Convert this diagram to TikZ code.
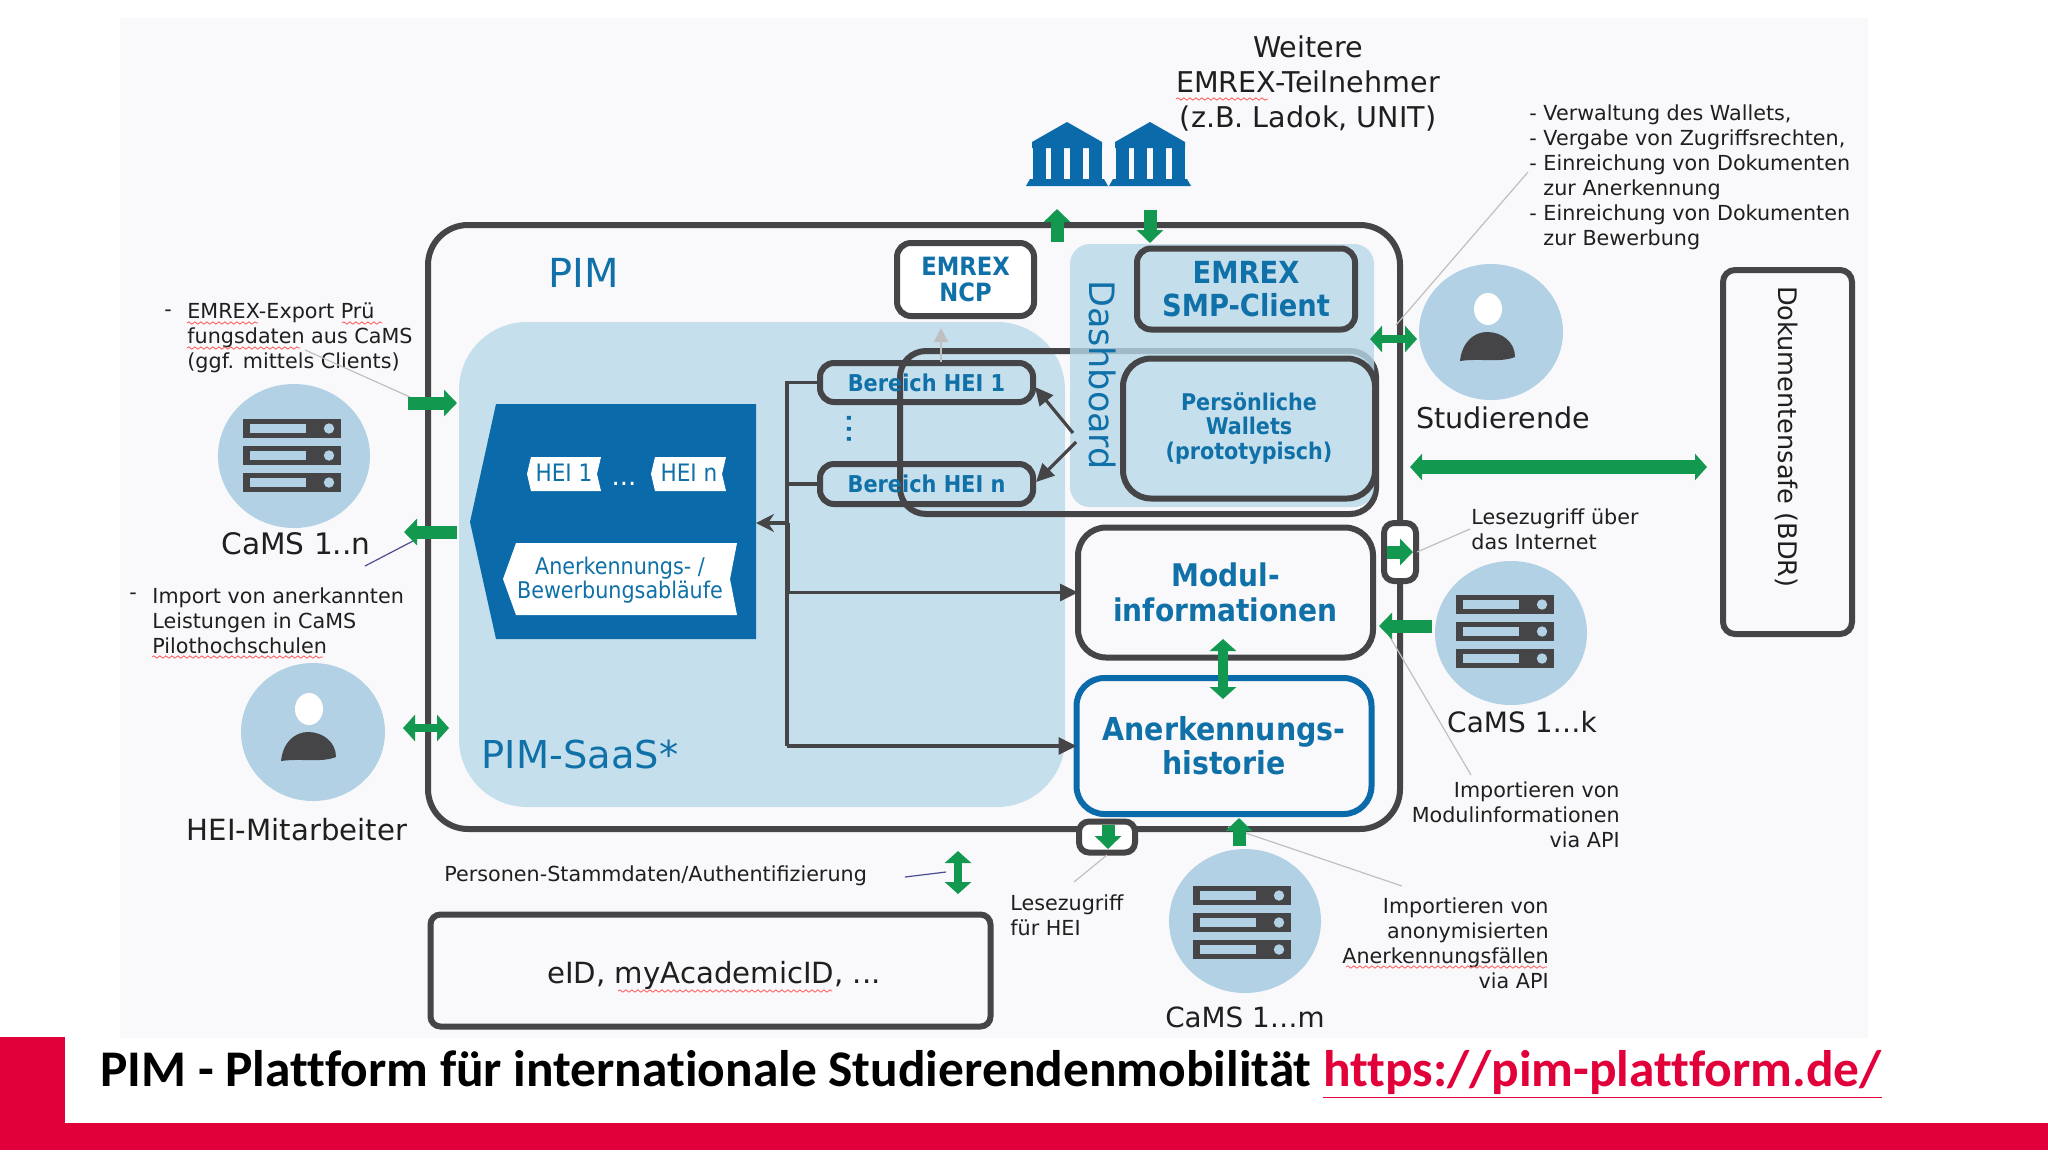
\documentclass[tikz,border=0pt]{standalone}
\usepackage{fontspec}
\setmainfont{DejaVu Sans}
\newfontfamily\condf{DejaVu Sans Condensed}
\newfontfamily\titlef[Ligatures=NoCommon]{Carlito}
\usetikzlibrary{arrows.meta,shapes.geometric,decorations.pathmorphing}
\definecolor{panel}{HTML}{F9F9FB}
\definecolor{dark}{HTML}{454548}
\definecolor{saas}{HTML}{C5DFEC}
\definecolor{dashcol}{HTML}{B9D8E8}
\definecolor{disc}{HTML}{B2D1E5}
\definecolor{pblue}{HTML}{0A6AAA}
\definecolor{tblue}{HTML}{1070A8}
\definecolor{pgreen}{HTML}{13994F}
\definecolor{pred}{HTML}{E2003B}
\newcommand{\sz}[2]{\fontsize{#1}{#2}\selectfont}
\tikzset{
  x=0.5pt,y=-0.5pt,
  box/.style={draw=dark,line width=3pt,rounded corners=#1,inner sep=0,outer sep=0},
  box/.default=7pt,
  lab/.style={inner sep=0,text=black!88,font=\sz{10.35}{12.5}},
  hdr/.style={inner sep=0,text=tblue,align=center,font=\condf\bfseries\sz{14}{17}},
  conn/.style={draw=dark,line width=1.6pt},
  ctip/.style={-{Triangle[length=9pt,width=8.5pt]}},
  stip/.style={-{Stealth[length=9pt,width=9pt]}},
  leader/.style={draw=black!25,line width=.6pt},
  darkleader/.style={draw=black!30!blue!40!gray,line width=.6pt},
  garrow/.style={draw=pgreen,line width=6.5pt,-{Triangle[length=6.5pt,width=13pt]}},
  gdouble/.style={draw=pgreen,line width=#1,{Triangle[length=6pt,width=13pt]}-{Triangle[length=6pt,width=13pt]}},
  disk/.style={ellipse,fill=disc,inner sep=0,minimum width=76pt,minimum height=72pt},
  squiggle/.style={draw=red!60!pink,line width=.35pt,decorate,decoration={snake,amplitude=.6pt,segment length=3pt}},
  server/.pic={
    \foreach \t in {0,27,54}{
      \fill[dark] (0,\t) rectangle (98,\t+19);
      \fill[disc] (7,\t+5) rectangle (63,\t+14);
      \fill[disc] (86,\t+9.5) circle (2.6pt);
    }
  },
  person/.pic={
    \fill[white] (-4,-23) ellipse [x radius=14,y radius=16];
    \fill[dark] (-32,29) .. controls (-30,10) and (-18,0) .. (-5,0)
      .. controls (10,0) and (23,10) .. (23,25)
      .. controls (8,31) and (-12,26) .. (-32,29) -- cycle;
  },
  bank/.pic={
    \fill[pblue] (0,0) -- (35,20) -- (35,26) -- (-35,26) -- (-35,20) -- cycle;
    \foreach \c in {-28,-9.5,9.5,28}{\fill[pblue] (\c-6.5,26) rectangle (\c+6.5,57);}
    \fill[pblue] (-37,57) -- (37,57) -- (41,64) -- (-41,64) -- cycle;
  },
}
\begin{document}
\begin{tikzpicture}
\useasboundingbox (0,0) rectangle (2048,1152);
\fill[white] (0,0) rectangle (2048,1152);
\fill[panel] (120,18) rectangle (1868,1038);
% PIM frame and inner areas
\node[box=20pt,minimum width=486pt,minimum height=302pt,anchor=north west] (pim) at (428,225) {};
\fill[saas,rounded corners=34pt] (459,322) rectangle (1065,807);
\draw[dark,line width=3pt,rounded corners=13pt] (900,351) rectangle (1376,514);
\fill[dashcol,opacity=.8,rounded corners=10pt] (1070,244) rectangle (1374,507);
\node[rotate=-90,inner sep=0,text=tblue,font=\sz{17.5}{20}] (dashb) at (1103,375) {Dashboard};
\node[inner sep=0,text=tblue,font=\sz{20}{24}] (pimt) at (584,273) {PIM};
\node[inner sep=0,text=tblue,font=\sz{19.2}{22}] (saast) at (580,755) {PIM-SaaS*};
% EMREX boxes
\node[box,fill=white,minimum width=68.5pt,minimum height=36.5pt,hdr,font=\condf\bfseries\sz{12.6}{13}] (ncp) at (965.5,279.5) {EMREX\\NCP};
\node[box,minimum width=109pt,minimum height=40.5pt,hdr,font=\condf\bfseries\sz{15.2}{16.5}] (smp) at (1246,289) {EMREX\\SMP-Client};
\node[box=14pt,fill=saas,minimum width=126pt,minimum height=70pt,hdr,font=\condf\bfseries\sz{11.5}{12.3}] (wallet) at (1249,428.5) {Persönliche\\Wallets\\(prototypisch)};
% Bereich boxes
\node[box,minimum width=106.5pt,minimum height=19.5pt,hdr,font=\condf\bfseries\sz{11.6}{13}] (hei1) at (926.5,382.5) {Bereich HEI 1};
\node[box,minimum width=106.5pt,minimum height=20pt,hdr,font=\condf\bfseries\sz{11.6}{13}] (hein) at (926.5,484) {Bereich HEI n};
\node[rotate=90,inner sep=0,text=tblue,font=\bfseries\sz{11}{12}] (dots) at (849,429) {.\hspace{1.2pt}.\hspace{1.2pt}.};
% blue block
\fill[pblue] (470,522) -- (496,404) -- (756,404) -- (756,639) -- (496,639) -- cycle;
\fill[white] (527,474) -- (531,457) -- (601,457) -- (597,474) -- (601,491) -- (531,491) -- cycle;
\fill[white] (651,474) -- (655,457) -- (726,457) -- (722,474) -- (726,491) -- (655,491) -- cycle;
\fill[white] (503,579) -- (516,543) -- (737,543) -- (730,579) -- (737,615) -- (516,615) -- cycle;
\node[inner sep=0,text=tblue,font=\condf\sz{12}{14}] (t1) at (564,473) {HEI 1};
\node[inner sep=0,text=tblue,font=\condf\sz{12}{14}] (tn) at (689,473) {HEI n};
\node[inner sep=0,text=white,font=\sz{13}{14}] (tdots) at (624,484) {...};
\node[inner sep=0,text=tblue,align=center,font=\condf\sz{11.5}{12.3}] (abl) at (620,580) {Anerkennungs- /\\Bewerbungsabläufe};
\coordinate (blockE) at (756,523);
% Modul / Historie
\node[box=14pt,minimum width=147.5pt,minimum height=65pt,hdr,font=\condf\bfseries\sz{15.6}{17.5}] (modul) at (1225.5,592.5) {Modul-\\informationen};
\node[box=14pt,draw=pblue,minimum width=147.5pt,minimum height=68pt,hdr,font=\condf\bfseries\sz{15.8}{17}] (hist) at (1224,746) {Anerkennungs-\\historie};
% bus
\coordinate (busT) at (787,382.5);
\coordinate (busN) at (787,484);
\coordinate (busB) at (787,523);
\coordinate (busM) at (787,592.5);
\coordinate (busH) at (787,746);
\draw[conn] (hei1.west) -- (busT) -- (busH);
\draw[conn] (hein.west) -- (busN);
\draw[conn,line width=2.5pt] (busB) -- (busM);
\draw[conn,stip] (busB) -- (blockE);
\draw[conn,ctip] (busM) -- (modul.west);
\draw[conn,ctip] (busH) -- (hist.west);
\coordinate (fork1) at (1073,433);
\coordinate (fork2) at (1076,442);
\coordinate (h1e) at (1035,387);
\coordinate (hne) at (1036,482);
\draw[conn,ctip] (fork1) -- (h1e);
\draw[conn,ctip] (fork2) -- (hne);
\draw[draw=black!25,line width=1pt,-{Triangle[length=7pt,width=7pt]}] (941,362) -- (941,328);
% small port boxes
\node[box=5pt,fill=white,minimum width=16pt,minimum height=29pt] (portR) at (1400,552) {};
\node[box=5pt,fill=white,minimum width=28pt,minimum height=15.5pt] (portB) at (1107,837) {};
% left side
\node[disk] (cn) at (294,456) {};
\pic at (243,419) {server};
\node[disk,minimum width=72pt,minimum height=69pt] (hm) at (313,732) {};
\pic at (313,732) {person};
\node[disk,minimum width=72pt,minimum height=68pt] (stud) at (1491,332) {};
\pic at (1492,332) {person};
\node[disk] (ck) at (1511,633) {};
\pic at (1456,595) {server};
\node[disk] (cm) at (1245,921) {};
\pic at (1193,886) {server};
\pic at (1067,122) {bank};
\pic at (1150,122) {bank};
% labels of discs
\node[lab,font=\sz{14.8}{16}] (lcn) at (296,544) {CaMS 1..n};
\node[lab,font=\sz{14.6}{16}] (lhm) at (297,830) {HEI-Mitarbeiter};
\node[lab,font=\sz{14.3}{16}] (lst) at (1503,418) {Studierende};
\node[lab,font=\sz{14}{16}] (lck) at (1522,722) {CaMS 1…k};
\node[lab,font=\sz{13.9}{16}] (lcm) at (1245,1017) {CaMS 1…m};
% texts
\node[lab,font=\sz{14.3}{17.5},align=center] (weit) at (1308,84) {Weitere\\EMREX-Teilnehmer\\(z.B. Ladok, UNIT)};
\node[lab,align=left,anchor=west] (verw) at (1529,177) {- Verwaltung des Wallets,\\- Vergabe von Zugriffsrechten,\\- Einreichung von Dokumenten\\\phantom{- }zur Anerkennung\\- Einreichung von Dokumenten\\\phantom{- }zur Bewerbung};
\node[lab,align=left,anchor=west] (exp) at (187,338) {EMREX-Export Prü\\fungsdaten aus CaMS\\(ggf. mittels Clients)};
\node[lab,anchor=west] (expd) at (164,313) {-};
\node[lab,align=left,anchor=west] (imp) at (152,621) {Import von anerkannten\\Leistungen in CaMS\\Pilothochschulen};
\node[lab,anchor=west] (impd) at (129,596) {-};
\node[lab,anchor=west] (pers) at (444,876) {Personen-Stammdaten/Authentifizierung};
\node[box=5pt,minimum width=280pt,minimum height=56pt] (eid) at (710.5,970.5) {};
\node[lab,font=\sz{14.6}{16}] (eidt) at (714,975) {eID, myAcademicID, ...};
\node[lab,align=left,anchor=west] (lint) at (1471,529) {Lesezugriff über\\das Internet};
\node[lab,align=right,anchor=east] (imod) at (1620,815) {Importieren von\\Modulinformationen\\via API};
\node[lab,align=right,anchor=east] (ianon) at (1549,943) {Importieren von\\anonymisierten\\Anerkennungsfällen\\via API};
\node[lab,align=left,anchor=west] (lhei) at (1010,915) {Lesezugriff\\für HEI};
\node[box=6pt,minimum width=64.5pt,minimum height=182pt] (safe) at (1787.5,452) {};
\node[rotate=-90,inner sep=0,text=black!88,font=\sz{12.8}{16}] (safet) at (1787,437) {Dokumentensafe (BDR)};
% leader lines
\coordinate (a1) at (1470,529); \coordinate (a2) at (1417,552);
\coordinate (b1) at (1471,775); \coordinate (b2) at (1384,627);
\coordinate (c1) at (1402,886); \coordinate (c2) at (1228,827);
\coordinate (d1) at (1074,882); \coordinate (d2) at (1107,855);
\coordinate (e1) at (1528,172); \coordinate (e2) at (1396,325);
\coordinate (f1) at (305,350);  \coordinate (f2) at (410,397);
\coordinate (g1) at (365,566);  \coordinate (g2) at (413,541);
\coordinate (h1) at (905,877);  \coordinate (h2) at (946,872);
\foreach \p/\q in {a1/a2,b1/b2,c1/c2,d1/d2,e1/e2,f1/f2}{\draw[leader] (\p) -- (\q);}
\draw[darkleader] (g1) -- (g2);
\draw[darkleader] (h1) -- (h2);
% green arrows
\coordinate (ga1) at (408,403); \coordinate (ga2) at (457,403);
\coordinate (gb1) at (457,532); \coordinate (gb2) at (404,532);
\coordinate (gc1) at (403,728); \coordinate (gc2) at (449,728);
\coordinate (gd1) at (1057,242); \coordinate (gd2) at (1057,209);
\coordinate (ge1) at (1150,210); \coordinate (ge2) at (1150,243);
\coordinate (gf1) at (1370,339); \coordinate (gf2) at (1417,339);
\coordinate (gg1) at (1410,467); \coordinate (gg2) at (1707,467);
\coordinate (gh1) at (1387,552); \coordinate (gh2) at (1413,552);
\coordinate (gi1) at (1432,626); \coordinate (gi2) at (1379,626);
\coordinate (gj1) at (1239,846); \coordinate (gj2) at (1239,818);
\coordinate (gk1) at (1108,825); \coordinate (gk2) at (1108,849);
\coordinate (gl1) at (958,851);  \coordinate (gl2) at (958,894);
\coordinate (gm1) at (1223,639); \coordinate (gm2) at (1223,699);
\foreach \p/\q in {ga1/ga2,gb1/gb2,gd1/gd2,ge1/ge2,gh1/gh2,gi1/gi2,gj1/gj2,gk1/gk2}{\draw[garrow] (\p) -- (\q);}
\draw[gdouble=4pt] (gc1) -- (gc2);
\draw[gdouble=4pt] (gf1) -- (gf2);
\draw[gdouble=7pt] (gg1) -- (gg2);
\draw[gdouble=4pt] (gl1) -- (gl2);
\draw[gdouble=5pt] (gm1) -- (gm2);
% spell-check marks
\foreach \a/\b/\c in {1176/1268/99,187/258/323,342/382/323,187/300/348,152/323/657,1346/1547/967,618/832/991}{
  \draw[squiggle] (\a,\c) -- (\b,\c);
}
% footer
\fill[pred] (0,1037) rectangle (65,1150);
\fill[pred] (0,1123) rectangle (2048,1150);
\node[inner sep=0,anchor=base west,font=\titlef\bfseries\sz{25.7}{28}] (title) at (100,1086) {PIM - Plattform für internationale Studierendenmobilität \textcolor{pred}{\underline{https://pim-plattform.de/}}};
\end{tikzpicture}
\end{document}
